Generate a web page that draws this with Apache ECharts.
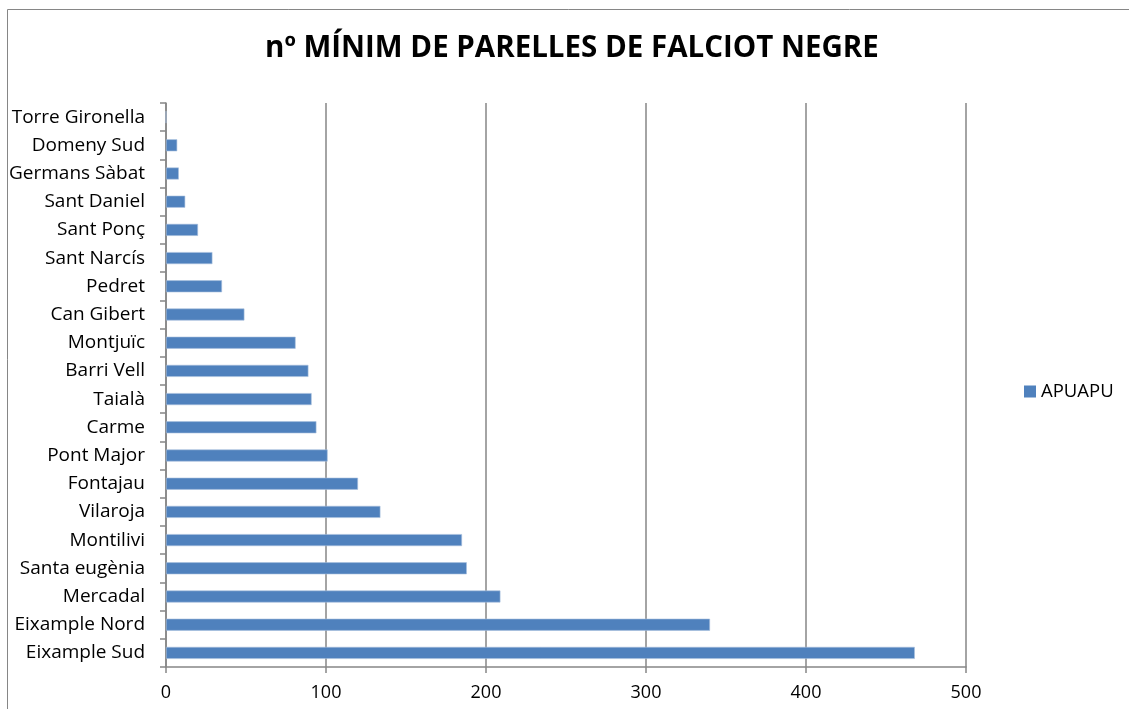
<!DOCTYPE html>
<html>
<head>
<meta charset="utf-8">
<script src="https://cdn.jsdelivr.net/npm/echarts@6/dist/echarts.min.js"></script>
<style>
  html, body { margin: 0; padding: 0; background: #fff; }
  #chart { width: 1129px; height: 709px; }
</style>
</head>
<body>
<div id="chart"></div>
<script>
// barris, de baix a dalt
var barris = ['Eixample Sud', 'Eixample Nord', 'Mercadal', 'Santa eugènia', 'Montilivi',
    'Vilaroja', 'Fontajau', 'Pont Major', 'Carme', 'Taialà', 'Barri Vell', 'Montjuïc',
    'Can Gibert', 'Pedret', 'Sant Narcís', 'Sant Ponç', 'Sant Daniel', 'Germans Sàbat',
    'Domeny Sud', 'Torre Gironella'];
var parelles = [468, 340, 209, 188, 185, 134, 120, 101, 94, 91, 89, 81, 49, 35, 29, 20, 12, 8, 7, 0];
var serieNom = 'APUAPU';

var myChart = echarts.init(document.getElementById('chart'));
var font = 'Open Sans';
var option = {
    backgroundColor: '#fff',
    animation: false,
    graphic: [{
        type: 'rect',
        shape: {x: 7.5, y: 9.5, width: 1130, height: 720},
        style: {fill: 'none', stroke: '#868686', lineWidth: 1}
    }],
    title: {
        text: 'nº MÍNIM DE PARELLES DE FALCIOT NEGRE',
        left: 260,
        top: 29,
        textStyle: {fontFamily: font, fontSize: 29.5, fontWeight: 'bold', color: '#000'}
    },
    legend: {
        data: [serieNom],
        orient: 'vertical',
        left: 1024,
        top: 382,
        padding: 0,
        itemWidth: 12,
        itemHeight: 12,
        itemGap: 0,
        icon: 'rect',
        itemStyle: {borderWidth: 0},
        textStyle: {fontFamily: font, fontSize: 18.5, color: '#000', padding: [0, 0, 0, 0]}
    },
    grid: {left: 166, right: 163, top: 103, bottom: 42, containLabel: false},
    xAxis: {
        type: 'value',
        min: 0,
        max: 500,
        interval: 100,
        axisLine: {show: true, lineStyle: {color: '#868686', width: 1.5}},
        axisTick: {show: true, length: 6, lineStyle: {color: '#868686', width: 1.5}},
        axisLabel: {fontFamily: font, fontSize: 18, color: '#000', margin: 17},
        splitLine: {show: true, lineStyle: {color: '#868686', width: 1.5}}
    },
    yAxis: {
        type: 'category',
        data: barris,
        axisLine: {show: true, lineStyle: {color: '#868686', width: 1.5}},
        axisTick: {show: true, length: 6, lineStyle: {color: '#868686', width: 1.5}},
        axisLabel: {fontFamily: font, fontSize: 19, color: '#000', margin: 21, interval: 0},
        splitLine: {show: false}
    },
    series: [{
        name: serieNom,
        type: 'bar',
        data: parelles,
        barWidth: 12,
        itemStyle: {color: '#4F81BD', borderColor: '#A7C0DE', borderWidth: 0.6}
    }]
};
myChart.setOption(option);
</script>
</body>
</html>
